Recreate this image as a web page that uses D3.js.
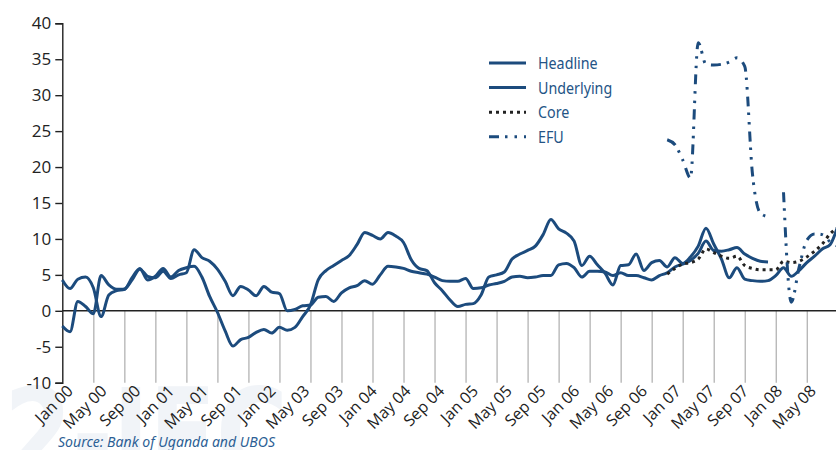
<!DOCTYPE html>
<html>
<head>
<meta charset="utf-8">
<script src="https://cdn.jsdelivr.net/npm/d3@7"></script>
<style>
body{margin:0;background:#fff;}
</style>
</head>
<body>
<script>
// monthly values, index 0 = first month on the axis
var labels=["Jan 00","May 00","Sep 00","Jan 01","May 01","Sep 01","Jan 02","May 03","Sep 03","Jan 04","May 04","Sep 04",
            "Jan 05","May 05","Sep 05","Jan 06","May 06","Sep 06","Jan 07","May 07","Sep 07","Jan 08","May 08"];
var yTicks=[-10,-5,0,5,10,15,20,25,30,35,40];

var headline=[-2.1,-2.9,1.3,0.6,-0.4,4.9,3.6,3.0,3.0,4.6,
              5.9,4.3,4.8,5.9,4.7,5.6,6.0,6.2,4.7,2.0,
              -0.2,-2.8,-4.9,-4.0,-3.7,-3.0,-2.6,-3.1,-2.3,-2.7,
              -2.3,-0.8,0.8,4.3,5.6,6.3,7.0,7.7,9.2,10.9,
              10.5,10.0,10.9,10.4,9.5,7.1,5.9,5.6,3.9,2.8,
              1.5,0.6,0.9,1.0,2.2,4.7,5.0,5.4,7.2,7.9,
              8.4,9.0,10.6,12.7,11.4,10.8,9.7,6.3,7.6,6.4,
              5.2,3.6,6.3,6.4,7.9,5.6,6.7,7.0,6.1,7.4,
              6.6,7.5,9.0,11.5,9.3,7.2,4.6,6.0,4.4,4.2,
              4.1,4.2,4.9,6.0,4.8,5.6,6.7,7.6,8.6,9.2,
              11.8];
var underlying=[4.3,3.1,4.4,4.7,3.2,-0.8,2.2,2.8,3.0,4.3,
                5.8,4.8,4.6,5.5,4.5,5.0,5.3,8.5,7.4,6.9,
                5.8,4.1,2.1,3.4,2.9,2.1,3.4,2.6,2.4,0.0,
                0.2,0.7,0.8,1.9,2.0,1.3,2.5,3.2,3.5,4.2,
                3.7,5.0,6.2,6.1,5.9,5.5,5.3,5.1,4.7,4.2,
                4.1,4.1,4.5,3.1,3.2,3.6,3.8,4.1,4.7,4.8,
                4.6,4.7,4.9,4.9,6.4,6.6,6.0,4.7,5.5,5.5,
                5.4,4.9,5.3,4.9,4.9,4.6,4.3,4.9,5.3,6.1,
                6.5,7.0,8.0,9.7,8.4,8.3,8.5,8.8,7.9,7.3,
                6.9,6.8];
var coreStart=78;
var core=[5.1,5.9,6.5,6.7,7.2,8.6,8.1,7.6,7.3,7.6,6.3,5.9,5.7,5.7,5.7,6.9,6.7,6.9,7.5,8.3,9.3,10.7,11.6];
var efuStart=78;
var efu=[23.8,23.1,21.0,18.5,37.3,34.3,34.2,34.3,34.6,35.2,34.0,19.0,13.6,13.1,null,16.5,1.2,6.0,9.8,10.7,10.6,9.6,9.0];

var blue="#1c4b7d";

var drawChart=function()
{
  var width=836;
  var height=450;
  var svg=d3.select("body").append("svg")
            .attr("width",width)
            .attr("height",height);

  // faint watermark behind the plot
  svg.append("text")
     .text("2-IFC")
     .attr("x",4)
     .attr("y",478)
     .attr("textLength",284)
     .attr("lengthAdjust","spacingAndGlyphs")
     .attr("font-family","DejaVu Sans")
     .attr("font-weight","bold")
     .attr("font-size",125)
     .attr("fill","#f1f4f8");

  var x=d3.scaleLinear().domain([0,100]).range([62.3,62.3+100*7.755]);
  var y=d3.scaleLinear().domain([-10,40]).range([382.7,23.3]);
  var xLab=d3.scalePoint().domain(labels).range([74,817]);

  // grey drop lines below zero every 4 months
  svg.append("g")
     .attr("transform","translate(0,"+y(0)+")")
     .call(d3.axisBottom(x).tickValues(d3.range(4,100,4)).tickSize(y(-10)-y(0)).tickFormat(""))
     .call(function(g){
       g.select(".domain").remove();
       g.selectAll("line").attr("stroke","#b3b3b3").attr("stroke-width",1.3);
     });

  svg.append("line")
     .attr("x1",x(0)).attr("x2",width)
     .attr("y1",y(0)).attr("y2",y(0))
     .attr("stroke","#222").attr("stroke-width",1.4);

  var yAxis=svg.append("g")
     .attr("transform","translate("+x(0)+",0)")
     .call(d3.axisLeft(y).tickValues(yTicks).tickSize(7).tickPadding(4).tickFormat(function(d){return String(d);}));
  yAxis.select(".domain").attr("stroke","#222").attr("stroke-width",1.4);
  yAxis.selectAll("line").attr("stroke","#222").attr("stroke-width",1.4);
  yAxis.selectAll("text")
       .attr("font-family","Open Sans")
       .attr("font-size",17)
       .attr("fill","#222");

  svg.append("g")
     .attr("class","xlab")
     .selectAll("text")
     .data(labels)
     .enter()
     .append("text")
     .text(function(d){return d;})
     .attr("transform",function(d){return "translate("+xLab(d)+",392) rotate(-45)";})
     .attr("text-anchor","end")
     .attr("font-family","Open Sans")
     .attr("font-size",16)
     .attr("fill","#222");

  var toPoints=function(arr,start){
    return arr.map(function(v,i){return {i:i+start,v:v};});
  };
  var line=d3.line()
             .defined(function(d){return d.v!==null;})
             .x(function(d){return x(d.i);})
             .y(function(d){return y(d.v);})
             .curve(d3.curveMonotoneX);

  var series=[
    {name:"Headline",pts:toPoints(headline,0),color:blue,dash:null},
    {name:"Underlying",pts:toPoints(underlying,0),color:blue,dash:null},
    {name:"Core",pts:toPoints(core,coreStart),color:"#222",dash:"3,4"},
    {name:"EFU",pts:toPoints(efu,efuStart),color:blue,dash:"10,6,2.5,7,2.5,7"}
  ];

  svg.selectAll("path.series")
     .data(series)
     .enter()
     .append("path")
     .attr("class","series")
     .attr("d",function(d){return line(d.pts);})
     .attr("fill","none")
     .attr("stroke",function(d){return d.color;})
     .attr("stroke-width",3)
     .attr("stroke-dasharray",function(d){return d.dash;});

  var legend=svg.append("g");
  legend.selectAll("line")
        .data(series)
        .enter()
        .append("line")
        .attr("x1",489)
        .attr("x2",526)
        .attr("y1",function(d,i){return 63+i*24.6;})
        .attr("y2",function(d,i){return 63+i*24.6;})
        .attr("stroke",function(d){return d.color;})
        .attr("stroke-width",3)
        .attr("stroke-dasharray",function(d){return d.dash;});
  legend.selectAll("text")
        .data(series)
        .enter()
        .append("text")
        .text(function(d){return d.name;})
        .attr("transform",function(d,i){return "translate(538,"+(69+i*24.6)+") scale(0.84,1)";})
        .attr("font-family","Noto Sans")
        .attr("font-size",17)
        .attr("fill","#245486");

  svg.append("text")
     .text("Source: Bank of Uganda and UBOS")
     .attr("x",58)
     .attr("y",447)
     .attr("textLength",217)
     .attr("lengthAdjust","spacingAndGlyphs")
     .attr("font-family","Noto Sans")
     .attr("font-style","italic")
     .attr("font-size",15)
     .attr("fill","#2d5f95");
};

drawChart();
</script>
</body>
</html>
